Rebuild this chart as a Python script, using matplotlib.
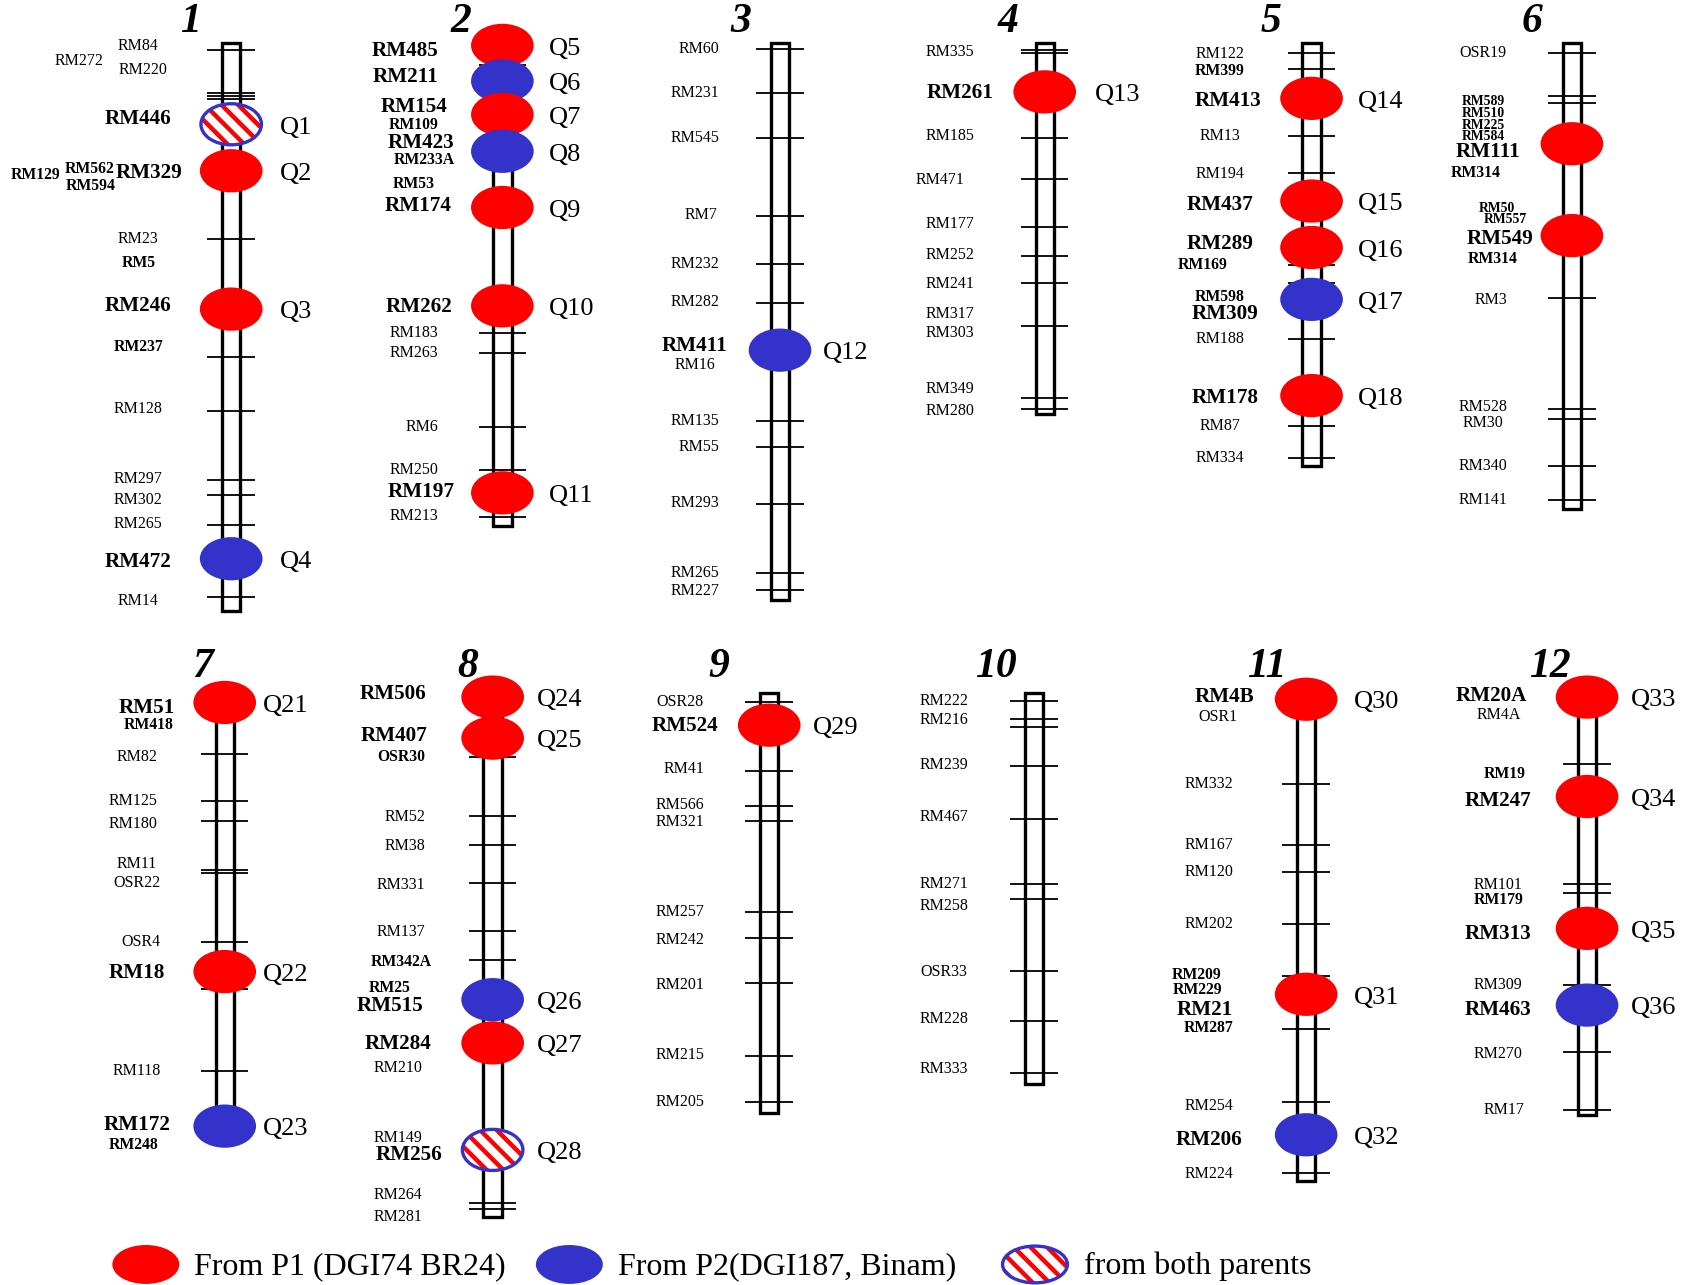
import matplotlib
matplotlib.use("Agg")
import matplotlib.pyplot as plt
from matplotlib.patches import Ellipse, Rectangle

plt.rcParams['font.family'] = ['Liberation Serif', 'DejaVu Serif']
plt.rcParams['hatch.linewidth'] = 3.2

# map positions are measured from the top of each row of chromosomes
# chromosome 1
c1_markers = ["RM84", "RM272", "RM220", "RM446", "RM129", "RM562", "RM594", "RM329", "RM23", "RM5",
              "RM246", "RM237", "RM128", "RM297", "RM302", "RM265", "RM472", "RM14"]
c1_label_pos = [3, 16, 25, 70, 122, 116, 132, 120, 181, 203, 243, 281, 338, 403, 423, 445, 480, 516]
c1_style = "nnnBbbbBnbBbnnnnBn"
c1_ticks = [6, 46, 49, 52, 126, 130, 181, 290, 340, 404, 418, 446, 512]
c1_qtl = [75, 118, 246, 477]
c1_src = ["both", "P1", "P1", "P2"]
c1_qname = ["Q1", "Q2", "Q3", "Q4"]
c1_span = (0, 525)

# chromosome 2
c2_markers = ["RM485", "RM211", "RM154", "RM109", "RM423", "RM233A", "RM53", "RM174", "RM262",
              "RM183", "RM263", "RM6", "RM250", "RM197", "RM213"]
c2_label_pos = [7, 31, 59, 76, 92, 108, 130, 151, 244, 268, 287, 355, 395, 415, 437]
c2_style = "BBBbBbbBBnnnnBn"
c2_ticks = [20, 268, 287, 355, 395, 438]
c2_qtl = [2, 35, 66, 100, 152, 243, 416]
c2_src = ["P1", "P2", "P1", "P2", "P1", "P1", "P1"]
c2_qname = ["Q5", "Q6", "Q7", "Q8", "Q9", "Q10", "Q11"]
c2_span = (5, 447)

# chromosome 3
c3_markers = ["RM60", "RM231", "RM545", "RM7", "RM232", "RM282", "RM411", "RM16", "RM135",
              "RM55", "RM293", "RM265", "RM227"]
c3_label_pos = [5, 46, 88, 159, 204, 239, 280, 298, 350, 374, 425, 490, 507]
c3_style = "nnnnnnBnnnnnn"
c3_ticks = [5, 46, 88, 160, 204, 240, 350, 374, 426, 490, 506]
c3_qtl = [284]
c3_src = ["P2"]
c3_qname = ["Q12"]
c3_span = (0, 515)

# chromosome 4
c4_markers = ["RM335", "RM261", "RM185", "RM471", "RM177", "RM252", "RM241", "RM317", "RM303",
              "RM349", "RM280"]
c4_label_pos = [8, 46, 86, 127, 167, 196, 223, 251, 268, 320, 340]
c4_style = "nBnnnnnnnnn"
c4_ticks = [6, 9, 88, 126, 170, 197, 222, 262, 328, 338]
c4_qtl = [45]
c4_src = ["P1"]
c4_qname = ["Q13"]
c4_span = (0, 343)

# chromosome 5
c5_markers = ["RM122", "RM399", "RM413", "RM13", "RM194", "RM437", "RM289", "RM169", "RM598",
              "RM309", "RM188", "RM178", "RM87", "RM334"]
c5_label_pos = [10, 26, 53, 86, 121, 150, 186, 205, 235, 251, 274, 328, 354, 384]
c5_style = "nbBnnBBbbBnBnn"
c5_ticks = [9, 24, 86, 120, 205, 222, 274, 354, 384]
c5_qtl = [51, 146, 189, 237, 326]
c5_src = ["P1", "P1", "P1", "P2", "P1"]
c5_qname = ["Q14", "Q15", "Q16", "Q17", "Q18"]
c5_span = (0, 391)

# chromosome 6
c6_markers = ["OSR19", "RM589", "RM510", "RM225", "RM584", "RM111", "RM314", "RM50", "RM557",
              "RM549", "RM314", "RM3", "RM528", "RM30", "RM340", "RM141"]
c6_label_pos = [9, 54, 65, 76, 86, 101, 120, 153, 163, 181, 200, 238, 337, 351, 391, 423]
c6_style = "nssssBbssBbnnnnn"
c6_ticks = [9, 49, 55, 236, 338, 348, 391, 423]
c6_qtl = [93, 178]
c6_src = ["P1", "P1"]
c6_qname = ["", ""]
c6_span = (0, 431)

# chromosome 7
c7_markers = ["RM51", "RM418", "RM82", "RM125", "RM180", "RM11", "OSR22", "OSR4", "RM18",
              "RM118", "RM172", "RM248"]
c7_label_pos = [15, 31, 60, 101, 122, 159, 177, 232, 260, 351, 401, 419]
c7_style = "BbnnnnnnBnBb"
c7_ticks = [58, 101, 120, 165, 168, 232, 275, 351]
c7_qtl = [10, 259, 402]
c7_src = ["P1", "P1", "P2"]
c7_qname = ["Q21", "Q22", "Q23"]
c7_span = (10, 400)

# chromosome 8
c8_markers = ["RM506", "RM407", "OSR30", "RM52", "RM38", "RM331", "RM137", "RM342A", "RM25",
              "RM515", "RM284", "RM210", "RM149", "RM256", "RM264", "RM281"]
c8_label_pos = [2, 41, 60, 116, 143, 179, 222, 250, 274, 291, 326, 348, 413, 429, 466, 486]
c8_style = "BBbnnnnbbBBnnBnn"
c8_ticks = [60, 115, 142, 177, 221, 248, 473, 479]
c8_qtl = [5, 43, 285, 325, 424]
c8_src = ["P1", "P1", "P2", "P1", "both"]
c8_qname = ["Q24", "Q25", "Q26", "Q27", "Q28"]
c8_span = (10, 486)

# chromosome 9
c9_markers = ["OSR28", "RM524", "RM41", "RM566", "RM321", "RM257", "RM242", "RM201", "RM215", "RM205"]
c9_label_pos = [10, 32, 72, 105, 121, 204, 230, 271, 336, 380]
c9_style = "nBnnnnnnnn"
c9_ticks = [10, 73, 106, 120, 204, 228, 270, 337, 380]
c9_qtl = [31]
c9_src = ["P1"]
c9_qname = ["Q29"]
c9_span = (1, 390)

# chromosome 10
c10_markers = ["RM222", "RM216", "RM239", "RM467", "RM271", "RM258", "OSR33", "RM228", "RM333"]
c10_label_pos = [9, 26, 68, 116, 178, 198, 259, 303, 349]
c10_style = "nnnnnnnnn"
c10_ticks = [9, 25, 33, 69, 118, 178, 192, 258, 305, 353]
c10_qtl = []
c10_src = []
c10_qname = []
c10_span = (1, 363)

# chromosome 11
c11_markers = ["RM4B", "OSR1", "RM332", "RM167", "RM120", "RM202", "RM209", "RM229", "RM21",
               "RM287", "RM254", "RM206", "RM224"]
c11_label_pos = [5, 23, 85, 142, 167, 215, 262, 276, 295, 311, 383, 415, 446]
c11_style = "BnnnnnbbBbnBn"
c11_ticks = [85, 142, 167, 215, 263, 312, 380, 445]
c11_qtl = [7, 280, 410]
c11_src = ["P1", "P1", "P2"]
c11_qname = ["Q30", "Q31", "Q32"]
c11_span = (10, 453)

# chromosome 12
c12_markers = ["RM20A", "RM4A", "RM19", "RM247", "RM101", "RM179", "RM313", "RM309", "RM463",
               "RM270", "RM17"]
c12_label_pos = [4, 22, 76, 101, 179, 193, 224, 271, 295, 335, 387]
c12_style = "BnbBnbBnBnn"
c12_ticks = [67, 178, 186, 271, 333, 387]
c12_qtl = [5, 97, 219, 290]
c12_src = ["P1", "P1", "P1", "P2"]
c12_qname = ["Q33", "Q34", "Q35", "Q36"]
c12_span = (10, 392)

legend_labels = ["From P1 (DGI74 BR24)", "From P2(DGI187, Binam)", "from both parents"]

markers = [c1_markers, c2_markers, c3_markers, c4_markers, c5_markers, c6_markers,
           c7_markers, c8_markers, c9_markers, c10_markers, c11_markers, c12_markers]
label_pos = [c1_label_pos, c2_label_pos, c3_label_pos, c4_label_pos, c5_label_pos, c6_label_pos,
             c7_label_pos, c8_label_pos, c9_label_pos, c10_label_pos, c11_label_pos, c12_label_pos]
styles = [c1_style, c2_style, c3_style, c4_style, c5_style, c6_style,
          c7_style, c8_style, c9_style, c10_style, c11_style, c12_style]
ticks = [c1_ticks, c2_ticks, c3_ticks, c4_ticks, c5_ticks, c6_ticks,
         c7_ticks, c8_ticks, c9_ticks, c10_ticks, c11_ticks, c12_ticks]
qtls = [c1_qtl, c2_qtl, c3_qtl, c4_qtl, c5_qtl, c6_qtl,
        c7_qtl, c8_qtl, c9_qtl, c10_qtl, c11_qtl, c12_qtl]
srcs = [c1_src, c2_src, c3_src, c4_src, c5_src, c6_src,
        c7_src, c8_src, c9_src, c10_src, c11_src, c12_src]
qnames = [c1_qname, c2_qname, c3_qname, c4_qname, c5_qname, c6_qname,
          c7_qname, c8_qname, c9_qname, c10_qname, c11_qname, c12_qname]
spans = [c1_span, c2_span, c3_span, c4_span, c5_span, c6_span,
         c7_span, c8_span, c9_span, c10_span, c11_span, c12_span]

# layout (canvas units of 1568 x 1189)
bar_x = [214, 465, 722, 967, 1214, 1455, 208, 456, 712, 957, 1209, 1469]
row_top = [40] * 6 + [640] * 6
title_y = [20] * 6 + [617] * 6
title_dx = [-38, -38, -36, -34, -38, -37, -20, -23, -47, -35, -36, -34]
label_cx = [128, 383, 643, 879, 1129, 1373, 127, 368, 629, 874, 1119, 1387]
qlab_dx = [45, 43, 40, 46, 43, 43, 35, 41, 40, 43, 44, 41]
label_dx = {
    (0, 1): -55, (0, 2): 4, (0, 4): -95, (0, 5): -45, (0, 6): -44, (0, 7): 10,
    (1, 0): -8, (1, 1): -8, (1, 4): 7, (1, 5): 10, (1, 7): 4, (1, 8): 5, (1, 11): 8, (1, 13): 7,
    (2, 0): 4, (2, 3): 6, (2, 9): 4,
    (3, 1): 10, (3, 3): -9,
    (4, 2): 8, (4, 7): -16, (4, 9): 5, (4, 11): 5,
    (5, 5): 4, (5, 6): -7, (5, 7): 13, (5, 8): 20, (5, 9): 15, (5, 10): 9, (5, 11): 7,
    (6, 0): 9, (6, 1): 11, (6, 3): -4, (6, 4): -4, (6, 7): 3, (6, 11): -3,
    (7, 0): -4, (7, 1): -3, (7, 2): 3, (7, 3): 7, (7, 4): 7, (7, 5): 3, (7, 6): 3, (7, 7): 3,
    (7, 8): -7, (7, 9): -7, (7, 13): 11,
    (8, 1): 5, (8, 2): 4,
    (10, 0): 14, (10, 1): 8, (10, 6): -11, (10, 7): -11, (10, 8): -4,
    (11, 0): -7, (11, 2): 6, (11, 10): 5,
}
font_for = {
    "n": dict(fontsize=11.5, fontweight="normal"),
    "b": dict(fontsize=11.3, fontweight="bold"),
    "B": dict(fontsize=15.2, fontweight="bold"),
    "s": dict(fontsize=9.8, fontweight="bold"),
}
RED = "#ff0000"
BLUE = "#3333cc"
ELL_W, ELL_H = 58, 40


def qtl_patch(ax, x, y, src, w=ELL_W, h=ELL_H):
    if src == "both":
        ax.add_patch(Ellipse((x, y), w, h, facecolor="white", edgecolor=RED,
                             hatch="\\\\", linewidth=0, zorder=4))
        ax.add_patch(Ellipse((x, y), w - 2, h - 2, facecolor="none", edgecolor=BLUE,
                             linewidth=2.4, zorder=5))
    else:
        ax.add_patch(Ellipse((x, y), w, h, facecolor=RED if src == "P1" else BLUE,
                             edgecolor="none", zorder=4))


fig = plt.figure(figsize=(16.94, 12.85), dpi=100)
ax = fig.add_axes([0, 0, 1, 1])
ax.set_xlim(0, 1568)
ax.set_ylim(1189, 0)
ax.axis("off")

for i in range(12):
    bx = bar_x[i]
    y0 = row_top[i]
    top, bottom = spans[i]
    ax.add_patch(Rectangle((bx - 8.5, y0 + top), 17, bottom - top, facecolor="white",
                           edgecolor="black", linewidth=2.4, zorder=1))
    ax.hlines([y0 + t for t in ticks[i]], bx - 22, bx + 22, colors="black",
              linewidth=1.3, zorder=2)
    for j, (name, pos) in enumerate(zip(markers[i], label_pos[i])):
        ax.text(label_cx[i] + label_dx.get((i, j), 0), y0 + pos, name, ha="center",
                va="center", **font_for[styles[i][j]])
    for q, src, qn in zip(qtls[i], srcs[i], qnames[i]):
        qtl_patch(ax, bx, y0 + q, src)
        if qn:
            ax.text(bx + qlab_dx[i], y0 + q + 3, qn, ha="left", va="center", fontsize=19)
    ax.text(bx + title_dx[i], title_y[i], str(i + 1), ha="center", va="center",
            fontsize=30, fontweight="bold", fontstyle="italic")

# legend
for lx, src, lab in zip([135, 527, 958], ["P1", "P2", "both"], legend_labels):
    qtl_patch(ax, lx, 1170, src, w=62, h=36)
    ax.text(lx + 45, 1172, lab, ha="left", va="center", fontsize=23)

fig.savefig("out.png", dpi=100)
